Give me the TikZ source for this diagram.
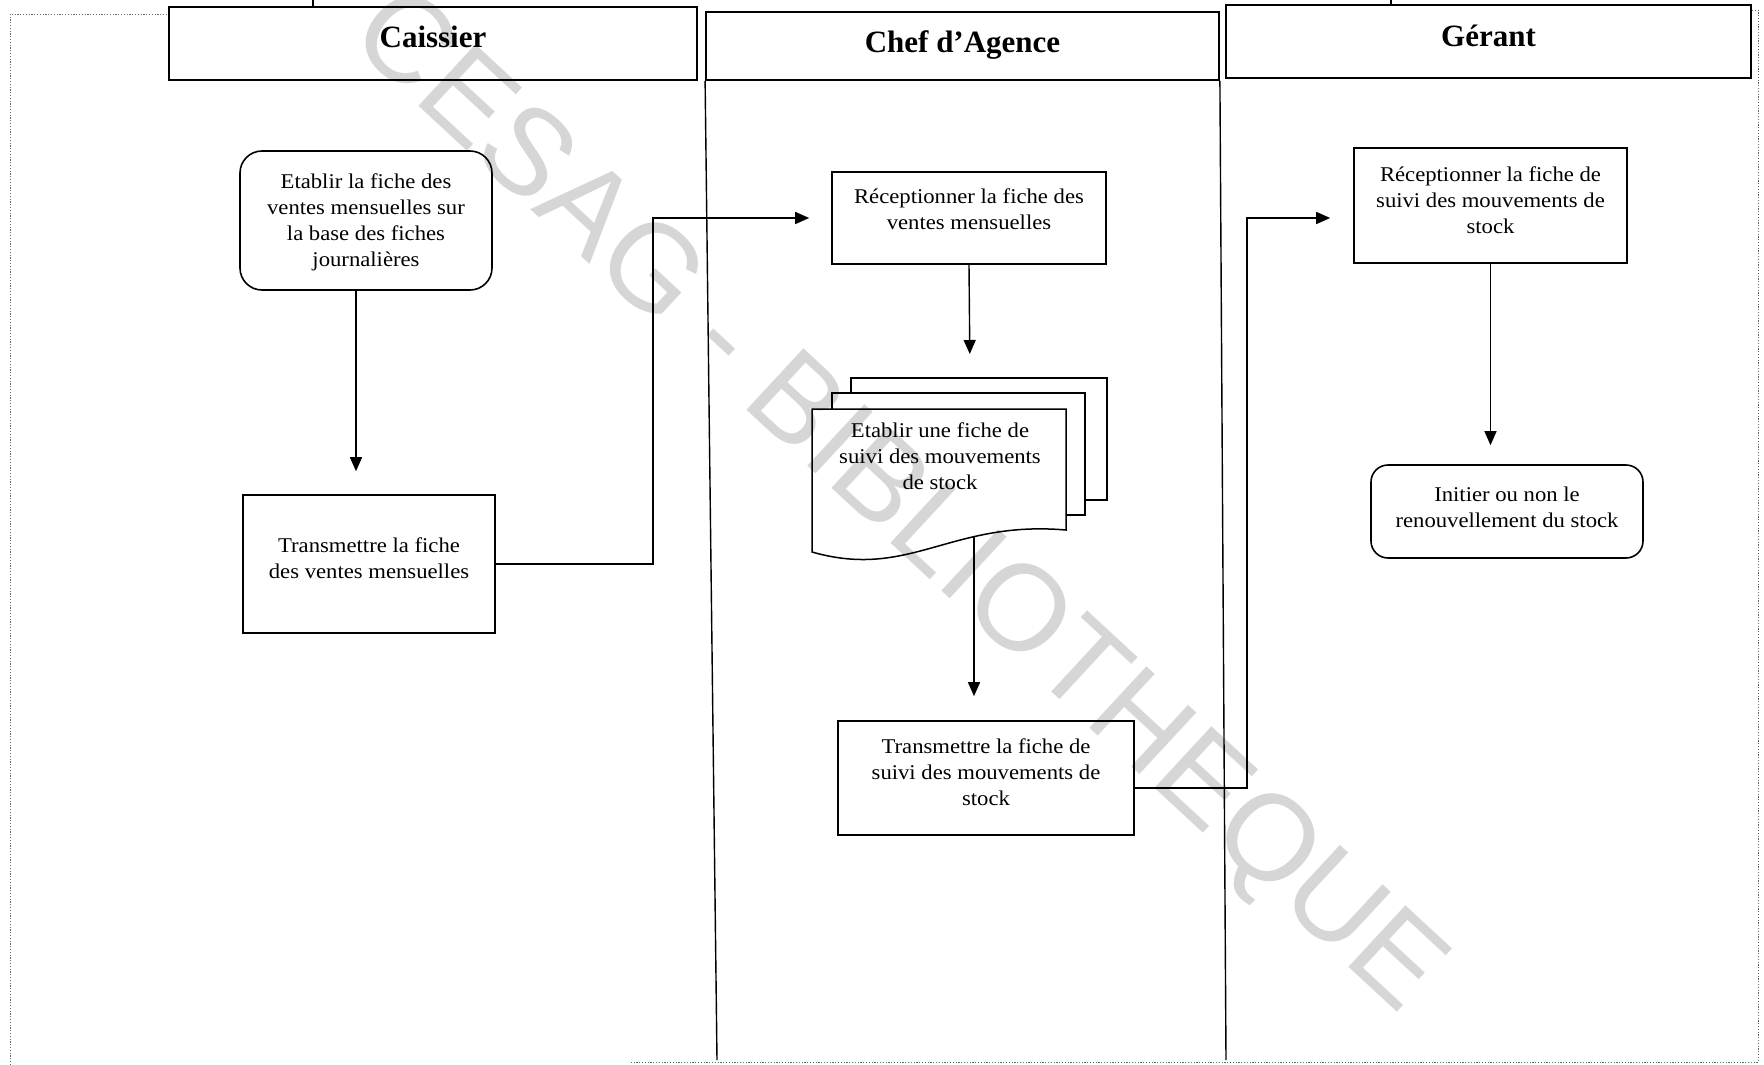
\documentclass[tikz,border=0pt]{standalone}
\usepackage{fontspec}
\setmainfont{Liberation Serif}
\newfontfamily\bodyfont[FakeStretch=1.08]{Liberation Serif}
\newfontfamily\wmfont{Liberation Sans}
\usetikzlibrary{arrows.meta,calc}
\definecolor{wmgray}{RGB}{214,214,214}
% text of a box, shifted vertically without changing the box size
\newcommand\lift[2]{\raisebox{#1}[0pt][0pt]{\begin{tabular}{@{}c@{}}#2\end{tabular}}}

\begin{document}
\begin{tikzpicture}[x=1pt,y=-1pt,
  box/.style={draw,line width=1.6pt,inner sep=0pt,font=\bodyfont\fontsize{21}{26}\selectfont},
  head/.style={draw,line width=1.8pt,inner sep=0pt,font=\fontsize{31}{36}\selectfont\bfseries},
  flow/.style={line width=1.4pt,-{Triangle[length=14pt,width=12pt]}},
  lane/.style={line width=1.4pt},
  page/.style={line width=1.5pt,line join=miter},
  frame/.style={line width=0.9pt,dash pattern=on 1.2pt off 1.6pt,black!60},
]
\useasboundingbox (0,0) rectangle (1764,1065);

% watermark
\node[rotate=-42.8,text=wmgray,inner sep=0pt,font=\wmfont\fontsize{122}{122}\selectfont] (wm) at (895,505) {CESAG - BIBLIOTHEQUE};

% outer dotted frame
\draw[frame] (10,1065) -- (10,14) -- (169,14);
\draw[frame] (1752,10) -- (1758,10) -- (1758,1062) -- (630,1062);

% lane headers
\node[head,minimum width=528pt,minimum height=73pt] (hcai) at (433,43.5) {\lift{-3.5pt}{Caissier}};
\node[head,minimum width=513pt,minimum height=68pt] (hchef) at (962.5,46) {\lift{-5.5pt}{Chef d’Agence}};
\node[head,minimum width=525pt,minimum height=73pt] (hger) at (1488.5,41.5) {\lift{-4pt}{Gérant}};
\draw[lane] (313,0) -- (hcai.north -| 313,0);
\draw[lane] (1391,0) -- (hger.north -| 1391,0);

% lane dividers
\coordinate (l1) at (717,1060);
\coordinate (l2) at (1226,1060);
\draw[lane] (hchef.south west) -- (l1);
\draw[lane] (hchef.south east) -- (l2);

% Caissier
\node[box,rounded corners=22pt,minimum width=252pt,minimum height=139pt] (A) at (366,220.5)
  {\lift{-7pt}{Etablir la fiche des\\ventes mensuelles sur\\la base des fiches\\journalières}};
\node[box,minimum width=252pt,minimum height=138pt] (B) at (369,564)
  {\lift{-1.5pt}{Transmettre la fiche\\des ventes mensuelles}};

% Chef d'Agence
\node[box,minimum width=274pt,minimum height=92pt] (C) at (969,218)
  {\lift{1.5pt}{Réceptionner la fiche des\\ventes mensuelles}};

% stacked documents
\draw[page] (851,393) -- (851,378) -- (1107,378) -- (1107,500) -- (1085,500);
\draw[page] (832,409) -- (832,393) -- (1085,393) -- (1085,515) -- (1066,515);
\draw[page] (812,409) -- (1066,409) -- (1066,530)
  .. controls (950,520) and (910,580) .. (812,552) -- cycle;
\node[inner sep=0pt,font=\bodyfont\fontsize{21}{26}\selectfont] (D) at (940,461)
  {\lift{-2.5pt}{Etablir une fiche de\\suivi des mouvements\\de stock}};
\coordinate (Dtop) at (970,378);
\coordinate (Dout) at (974,536);

\node[box,minimum width=296pt,minimum height=114pt] (E) at (986,778)
  {\lift{-1pt}{Transmettre la fiche de\\suivi des mouvements de\\stock}};

% Gérant
\node[box,minimum width=273pt,minimum height=115pt] (F) at (1490.5,205.5)
  {\lift{-1.5pt}{Réceptionner la fiche de\\suivi des mouvements de\\stock}};
\node[box,rounded corners=17pt,minimum width=272pt,minimum height=93pt] (G) at (1507,511.5)
  {\lift{-3pt}{Initier ou non le\\renouvellement du stock}};

% connectors
\draw[flow,shorten >=23pt] ([xshift=-10pt]A.south) -- ([xshift=-10pt]A.south |- B.north);
\draw[flow,shorten >=22pt] (B.east) -- ++(157,0) |- (C.west);
\draw[flow,shorten >=24pt] (C.south) -- (Dtop);
\draw[flow,shorten >=24pt] (Dout) -- (Dout |- E.north);
\draw[flow,shorten >=23pt] ([yshift=-10pt]E.east) -- ++(112,0) |- ([yshift=-12.5pt]F.west);
\draw[flow,shorten >=19pt] (F.south) -- (F.south |- G.north);
\end{tikzpicture}
\end{document}
